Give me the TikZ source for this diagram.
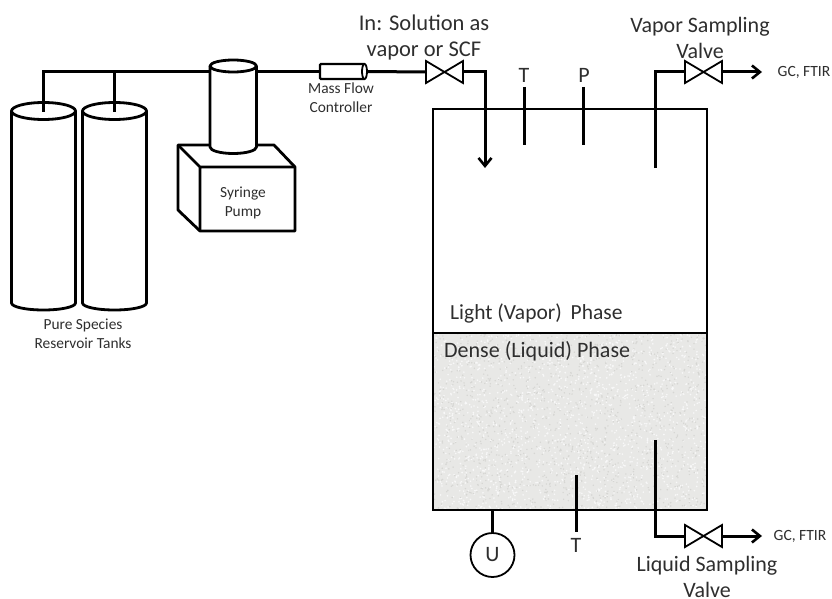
\documentclass[tikz,border=0pt]{standalone}
\usepackage{fontspec}
\setmainfont{Carlito}
\usetikzlibrary{arrows.meta}
\definecolor{txt}{HTML}{2E2E2E}
\definecolor{liq}{HTML}{E8E8E6}
\definecolor{speckd}{HTML}{D6D6D3}
\tikzset{
 x=1pt,y=-1pt,
 pipe/.style={draw=black,line width=3pt,line join=miter},
 outline/.style={draw=black,line width=2.8pt,line join=round},
 vessel/.style={draw=black,line width=2.2pt},
 flow/.style={pipe,-{Straight Barb[length=8pt,width=13pt,line width=2.6pt]}},
 valvebody/.style={draw=black,line width=1.8pt,fill=white},
 lab/.style={text=txt,align=center,inner sep=0pt,font=\fontsize{#1}{#1}\selectfont},
}
\newcommand{\valve}[3]{%
 \draw[valvebody] (#2-18.5,#3-11) -- (#2-18.5,#3+11) -- (#2+18.5,#3-11) -- (#2+18.5,#3+11) -- cycle;
 \coordinate (#1-l) at (#2-18.5,#3);
 \coordinate (#1-r) at (#2+18.5,#3);}
\newcommand{\tank}[3]{%
 \fill[white] (#2-32,#3) rectangle (#2+32,303);
 \draw[outline] (#2+32,#3) -- (#2+32,303) arc[start angle=0,end angle=180,x radius=32,y radius=7] -- (#2-32,#3);
 \draw[outline,fill=white] (#2,#3) ellipse[x radius=32,y radius=8.5];
 \coordinate (#1) at (#2,#3+1);}
\begin{document}
\begin{tikzpicture}
\useasboundingbox (0,0) rectangle (832,599);
% liquid texture
\fill[liq] (433,333) rectangle (707,510);
\pgfmathsetseed{4242}
\fill[white!70!liq]
 \foreach \i in {1,...,1800}{
  ({433+274*rnd},{333+177*rnd}) circle[radius=0.9]
 };
\fill[speckd]
 \foreach \i in {1,...,1300}{
  ({433+274*rnd},{333+177*rnd}) circle[radius=0.8]
 };
% vessel
\draw[vessel] (433,510) -- (433,109) -- (707,109) -- (707,510) -- cycle;
\draw[vessel] (433,333) -- (707,333);
\coordinate (ubase) at (492.5,510);
% tanks
\tank{tankA}{43.5}{111}
\tank{tankB}{114.5}{111}
% pump
\draw[outline,fill=white] (178,145) -- (274,145) -- (295,167) -- (295,231) -- (200,231) -- (178,210) -- cycle;
\draw[outline] (178,145) -- (200,167) -- (295,167) (200,167) -- (200,231);
\node[lab=15.4] (pumplab) at (243,203) {Syringe\\[3.5pt]Pump};
% syringe
\fill[white] (210,66) rectangle (256.5,147);
\draw[outline,fill=white] (256.5,66) -- (256.5,147) arc[start angle=0,end angle=180,x radius=23.25,y radius=6.5] -- (210,66);
\draw[outline,fill=white] (233.25,66) ellipse[x radius=23.25,y radius=6];
\coordinate (syrL) at (209,72);
\coordinate (syrR) at (257.5,71.5);
\coordinate (jA) at (43.5,72);
\coordinate (jB) at (114.5,72);
\draw[pipe] (tankA) -- (jA) -- (syrL);
\draw[pipe] (tankB) -- (jB);
% MFC
\draw[draw=black,line width=2.2pt,fill=white,rounded corners=1pt] (320,64) rectangle (365,79);
\draw[draw=black,line width=1.8pt,fill=white] (364.5,71.5) ellipse[x radius=2.5,y radius=7.5];
\coordinate (mfcL) at (320,71.5);
\coordinate (mfcR) at (367,71.5);
\draw[pipe] (syrR) -- (mfcL);
\valve{v1}{444.5}{72}
\valve{v2}{703.5}{72}
\valve{v3}{703.5}{536}
\draw[pipe] (mfcR) -- (v1-l);
\coordinate (inEnd) at (485,168);
\coordinate (inC) at (485,72);
\draw[flow] (v1-r) -- (inC) -- (inEnd);
% instruments
\coordinate (t1a) at (524,87); \coordinate (t1b) at (524,145);
\coordinate (p1a) at (583,87); \coordinate (p1b) at (583,145);
\draw[pipe] (t1a) -- (t1b);
\draw[pipe] (p1a) -- (p1b);
\coordinate (vs) at (655,168); \coordinate (vc) at (655,72);
\draw[pipe] (vs) -- (vc) -- (v2-l);
\coordinate (g1) at (762,72);
\draw[flow] (v2-r) -- (g1);
% liquid side
\coordinate (ls) at (655,440); \coordinate (lc) at (655,536);
\draw[pipe] (ls) -- (lc) -- (v3-l);
\coordinate (g2) at (762,536);
\draw[flow] (v3-r) -- (g2);
\coordinate (t2a) at (576,475); \coordinate (t2b) at (576,532);
\draw[pipe] (t2a) -- (t2b);
\node[circle,draw=black,line width=1.8pt,minimum size=44pt,inner sep=0pt,text=txt,font=\fontsize{22}{22}\selectfont] (u) at (492.5,555) {U};
\draw[pipe] (ubase) -- (u.north);
% labels
\node[lab=22.5] (inl) at (424,38) {In: Solution as\\[3.5pt]vapor or SCF};
\node[lab=15.4] (mfl) at (341,98) {Mass Flow\\[3.5pt]Controller};
\node[lab=22] (vsv) at (700,38) {Vapor Sampling\\[4pt]Valve};
\node[lab=22] (tt) at (524,75) {T};
\node[lab=22] (pp) at (584,75) {P};
\node[lab=15.6] (gc1) at (804,72) {GC, FTIR};
\node[lab=15.6] (gc2) at (800,536) {GC, FTIR};
\node[lab=22,anchor=north] (lsv) at (707,556) {Liquid Sampling\\[4pt]Valve};
\node[lab=22] (t2) at (576,545) {T};
\node[lab=15.4] (res) at (83,334) {Pure Species\\[3.5pt]Reservoir Tanks};
\node[lab=21.5,anchor=west] (lv) at (450,313) {Light (Vapor)\hspace{4pt} Phase};
\node[lab=22,anchor=west] (dl) at (444,351) {Dense (Liquid) Phase};
\end{tikzpicture}
\end{document}
